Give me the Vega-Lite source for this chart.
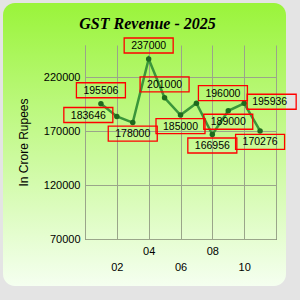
{
  "$schema": "https://vega.github.io/schema/vega-lite/v6.json",
  "width": 283,
  "height": 283,
  "autosize": "none",
  "padding": {"left": 3, "top": 3, "right": 14, "bottom": 14},
  "background": "#e4e4e4",
  "view": {
    "stroke": null,
    "cornerRadius": 12,
    "fill": {
      "gradient": "linear",
      "x1": 0, "y1": 0, "x2": 0, "y2": 1,
      "stops": [
        {"offset": 0, "color": "#9af43a"},
        {"offset": 1, "color": "#f5fff0"}
      ]
    }
  },
  "title": {
    "text": "GST Revenue - 2025",
    "font": "Liberation Serif",
    "fontSize": 16,
    "fontStyle": "italic",
    "fontWeight": "bold",
    "color": "black",
    "anchor": "middle",
    "dx": 3,
    "dy": 56,
    "offset": 14,
    "baseline": "alphabetic"
  },
  "data": {
    "values": [
      {"month": 1, "value": 195506},
      {"month": 2, "value": 183646},
      {"month": 3, "value": 178000},
      {"month": 4, "value": 237000},
      {"month": 5, "value": 201000},
      {"month": 6, "value": 185000},
      {"month": 7, "value": 196000},
      {"month": 8, "value": 166956},
      {"month": 9, "value": 189000},
      {"month": 10, "value": 195936},
      {"month": 11, "value": 170276}
    ]
  },
  "encoding": {
    "x": {
      "field": "month",
      "type": "quantitative",
      "scale": {"domain": [0, 12], "range": [82, 273], "nice": false, "zero": false},
      "axis": {
        "title": null,
        "offset": -47,
        "values": [0, 2, 4, 6, 8, 10, 12],
        "format": "02d",
        "labelExpr": "datum.value == 0 || datum.value == 12 ? '' : datum.label",
        "grid": false,
        "domainColor": "#333333",
        "tickColor": "#9aa58a",
        "tickSize": -194,
        "labelFont": "Liberation Sans",
        "labelFontSize": 11,
        "labelColor": "#000000",
        "labelPadding": 214.5,
        "labelLineHeight": 16,
        "labelBaseline": {"condition": {"test": "datum.value % 4 == 2", "value": "line-top"}, "value": "line-bottom"}
      }
    },
    "y": {
      "field": "value",
      "type": "quantitative",
      "scale": {"domain": [70000, 250000], "range": [236, 42], "nice": false, "zero": false},
      "axis": {
        "title": "In Crore Rupees",
        "offset": -82,
        "values": [70000, 120000, 170000, 220000],
        "format": "d",
        "grid": false,
        "domainColor": "#9aa58a",
        "tickColor": "#9aa58a",
        "tickSize": -191,
        "labelFont": "Liberation Sans",
        "labelFontSize": 11,
        "labelColor": "#000000",
        "labelPadding": 196,
        "titleFont": "Liberation Sans",
        "titleFontSize": 12,
        "titleFontWeight": "normal",
        "titleColor": "#000000",
        "titlePadding": 13
      }
    }
  },
  "layer": [
    {
      "mark": {"type": "line", "color": "#3a963a", "strokeWidth": 2.5}
    },
    {
      "mark": {"type": "point", "filled": true, "color": "#1d6b1d", "size": 30, "opacity": 1}
    },
    {
      "transform": [{"filter": "indexof([1, 4, 5], datum.month) >= 0"}],
      "mark": {"type": "point", "shape": "M-0.49,-0.42H0.49V-0.12H-0.49Z", "size": 10000, "filled": false, "stroke": "#ff0000", "strokeWidth": 1.3, "opacity": 1}
    },
    {
      "transform": [{"filter": "indexof([1, 4, 5], datum.month) >= 0"}],
      "mark": {"type": "text", "font": "Liberation Sans", "fontSize": 10.5, "color": "#000000", "align": "center", "baseline": "middle", "dx": 0, "dy": -13},
      "encoding": {"text": {"field": "value", "type": "quantitative", "format": "d"}}
    },
    {
      "transform": [{"filter": "datum.month == 2"}],
      "mark": {"type": "point", "shape": "M-1.06,-0.18H-0.08V0.12H-1.06Z", "size": 10000, "filled": false, "stroke": "#ff0000", "strokeWidth": 1.3, "opacity": 1}
    },
    {
      "transform": [{"filter": "datum.month == 2"}],
      "mark": {"type": "text", "font": "Liberation Sans", "fontSize": 10.5, "color": "#000000", "align": "center", "baseline": "middle", "dx": -28.5, "dy": -1},
      "encoding": {"text": {"field": "value", "type": "quantitative", "format": "d"}}
    },
    {
      "transform": [{"filter": "indexof([3, 6, 8, 9, 11], datum.month) >= 0"}],
      "mark": {"type": "point", "shape": "M-0.49,0.07H0.49V0.37H-0.49Z", "size": 10000, "filled": false, "stroke": "#ff0000", "strokeWidth": 1.3, "opacity": 1}
    },
    {
      "transform": [{"filter": "indexof([3, 6, 8, 9, 11], datum.month) >= 0"}],
      "mark": {"type": "text", "font": "Liberation Sans", "fontSize": 10.5, "color": "#000000", "align": "center", "baseline": "middle", "dx": 0, "dy": 11.5},
      "encoding": {"text": {"field": "value", "type": "quantitative", "format": "d"}}
    },
    {
      "transform": [{"filter": "datum.month == 7"}],
      "mark": {"type": "point", "shape": "M0.04,-0.35H1.02V-0.05H0.04Z", "size": 10000, "filled": false, "stroke": "#ff0000", "strokeWidth": 1.3, "opacity": 1}
    },
    {
      "transform": [{"filter": "datum.month == 7"}],
      "mark": {"type": "text", "font": "Liberation Sans", "fontSize": 10.5, "color": "#000000", "align": "center", "baseline": "middle", "dx": 26.5, "dy": -9.5},
      "encoding": {"text": {"field": "value", "type": "quantitative", "format": "d"}}
    },
    {
      "transform": [{"filter": "datum.month == 10"}],
      "mark": {"type": "point", "shape": "M0.06,-0.18H1.04V0.12H0.06Z", "size": 10000, "filled": false, "stroke": "#ff0000", "strokeWidth": 1.3, "opacity": 1}
    },
    {
      "transform": [{"filter": "datum.month == 10"}],
      "mark": {"type": "text", "font": "Liberation Sans", "fontSize": 10.5, "color": "#000000", "align": "center", "baseline": "middle", "dx": 25.5, "dy": -1},
      "encoding": {"text": {"field": "value", "type": "quantitative", "format": "d"}}
    }
  ]
}
